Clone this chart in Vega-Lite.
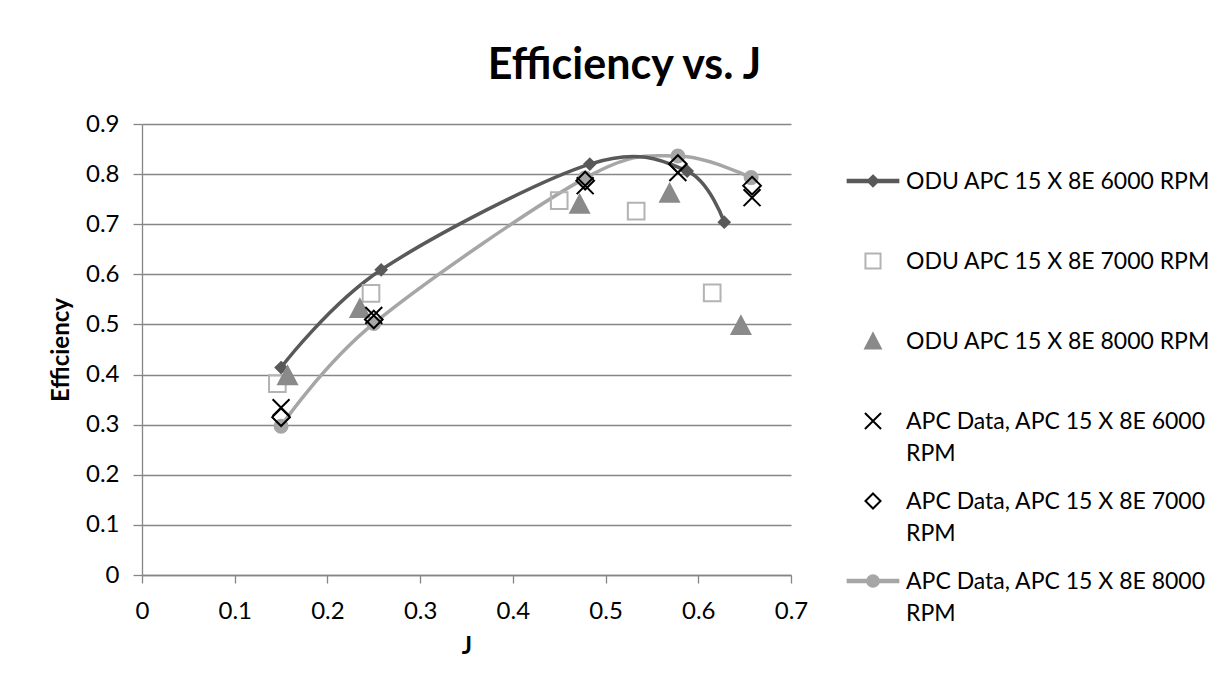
{
  "$schema": "https://vega.github.io/schema/vega-lite/v6.json",
  "width": 649,
  "height": 451,
  "autosize": "none",
  "padding": {"left": 142, "top": 124, "right": 435, "bottom": 115},
  "background": "white",
  "config": {"view": {"stroke": null}, "font": "Lato"},
  "title": {"text": "Efficiency vs. J", "fontSize": 43, "fontWeight": "bold", "font": "Lato", "color": "black", "anchor": "middle", "frame": "group", "dx": 158, "offset": -10, "baseline": "alphabetic"},
  "data": {"values": [
    {"series": "APC Data, APC 15 X 8E 8000 RPM", "J": 0.150, "eff": 0.297},
    {"series": "APC Data, APC 15 X 8E 8000 RPM", "J": 0.250, "eff": 0.502},
    {"series": "APC Data, APC 15 X 8E 8000 RPM", "J": 0.478, "eff": 0.792},
    {"series": "APC Data, APC 15 X 8E 8000 RPM", "J": 0.578, "eff": 0.836},
    {"series": "APC Data, APC 15 X 8E 8000 RPM", "J": 0.657, "eff": 0.793},
    {"series": "ODU APC 15 X 8E 6000 RPM", "J": 0.150, "eff": 0.414},
    {"series": "ODU APC 15 X 8E 6000 RPM", "J": 0.258, "eff": 0.609},
    {"series": "ODU APC 15 X 8E 6000 RPM", "J": 0.483, "eff": 0.820},
    {"series": "ODU APC 15 X 8E 6000 RPM", "J": 0.588, "eff": 0.806},
    {"series": "ODU APC 15 X 8E 6000 RPM", "J": 0.628, "eff": 0.704},
    {"series": "ODU APC 15 X 8E 7000 RPM", "J": 0.146, "eff": 0.382},
    {"series": "ODU APC 15 X 8E 7000 RPM", "J": 0.247, "eff": 0.562},
    {"series": "ODU APC 15 X 8E 7000 RPM", "J": 0.450, "eff": 0.747},
    {"series": "ODU APC 15 X 8E 7000 RPM", "J": 0.533, "eff": 0.726},
    {"series": "ODU APC 15 X 8E 7000 RPM", "J": 0.615, "eff": 0.563},
    {"series": "ODU APC 15 X 8E 8000 RPM", "J": 0.157, "eff": 0.398},
    {"series": "ODU APC 15 X 8E 8000 RPM", "J": 0.235, "eff": 0.532},
    {"series": "ODU APC 15 X 8E 8000 RPM", "J": 0.472, "eff": 0.740},
    {"series": "ODU APC 15 X 8E 8000 RPM", "J": 0.569, "eff": 0.762},
    {"series": "ODU APC 15 X 8E 8000 RPM", "J": 0.646, "eff": 0.498},
    {"series": "APC Data, APC 15 X 8E 6000 RPM", "J": 0.150, "eff": 0.334},
    {"series": "APC Data, APC 15 X 8E 6000 RPM", "J": 0.250, "eff": 0.518},
    {"series": "APC Data, APC 15 X 8E 6000 RPM", "J": 0.478, "eff": 0.777},
    {"series": "APC Data, APC 15 X 8E 6000 RPM", "J": 0.578, "eff": 0.803},
    {"series": "APC Data, APC 15 X 8E 6000 RPM", "J": 0.658, "eff": 0.753},
    {"series": "APC Data, APC 15 X 8E 7000 RPM", "J": 0.150, "eff": 0.315},
    {"series": "APC Data, APC 15 X 8E 7000 RPM", "J": 0.250, "eff": 0.510},
    {"series": "APC Data, APC 15 X 8E 7000 RPM", "J": 0.478, "eff": 0.787},
    {"series": "APC Data, APC 15 X 8E 7000 RPM", "J": 0.578, "eff": 0.820},
    {"series": "APC Data, APC 15 X 8E 7000 RPM", "J": 0.658, "eff": 0.777}
  ]},
  "encoding": {
    "x": {"field": "J", "type": "quantitative", "scale": {"domain": [0, 0.7], "nice": false, "zero": false},
      "axis": {"title": "J", "values": [0, 0.1, 0.2, 0.3, 0.4, 0.5, 0.6, 0.7], "format": "~g", "grid": false, "labelFlush": false, "labelOverlap": false,
        "domainColor": "#868686", "domainWidth": 1.3, "tickColor": "#868686", "tickWidth": 1.3, "tickSize": 8,
        "labelFont": "Lato", "labelFontSize": 24, "labelColor": "black", "labelPadding": 16,
        "titleFont": "Lato", "titleFontSize": 24, "titleFontWeight": "bold", "titleColor": "black", "titlePadding": 11}},
    "y": {"field": "eff", "type": "quantitative", "scale": {"domain": [0, 0.9], "nice": false, "zero": false},
      "axis": {"title": "Efficiency", "values": [0, 0.1, 0.2, 0.3, 0.4, 0.5, 0.6, 0.7, 0.8, 0.9], "format": "~g", "grid": true, "gridColor": "#868686", "gridWidth": 1.3, "labelOverlap": false, "labelFlush": false,
        "domainColor": "#868686", "domainWidth": 1.3, "tickColor": "#868686", "tickWidth": 1.3, "tickSize": 9,
        "labelFont": "Lato", "labelFontSize": 24, "labelColor": "black", "labelPadding": 14,
        "titleFont": "Lato", "titleFontSize": 24, "titleFontWeight": "bold", "titleColor": "black", "titlePadding": 12}}
  },
  "layer": [
    {
      "transform": [{"filter": "datum.series == 'ODU APC 15 X 8E 6000 RPM' || datum.series == 'APC Data, APC 15 X 8E 8000 RPM'"}],
      "mark": {"type": "line", "interpolate": "cardinal", "strokeWidth": 3.5},
      "encoding": {
        "stroke": {"field": "series", "type": "nominal", "scale": {"domain": ["ODU APC 15 X 8E 6000 RPM", "APC Data, APC 15 X 8E 8000 RPM"], "range": ["#595959", "#a6a6a6"]}, "legend": null}
      }
    },
    {
      "mark": {"type": "point", "size": 676, "strokeWidth": 2, "opacity": 1},
      "encoding": {
        "shape": {"field": "series", "type": "nominal", "legend": null, "scale": {
          "domain": ["ODU APC 15 X 8E 6000 RPM", "ODU APC 15 X 8E 7000 RPM", "ODU APC 15 X 8E 8000 RPM", "APC Data, APC 15 X 8E 6000 RPM", "APC Data, APC 15 X 8E 7000 RPM", "APC Data, APC 15 X 8E 8000 RPM"],
          "range": ["M0,-0.42L0.42,0L0,0.42L-0.42,0Z", "M-0.64,-0.64H0.64V0.64H-0.64Z", "M0,-0.7L0.72,0.66H-0.72Z", "M-0.65,-0.65L0.65,0.65M-0.65,0.65L0.65,-0.65", "M0,-0.68L0.68,0L0,0.68L-0.68,0Z", "M0.5,0A0.5,0.5,0,1,1,-0.5,0A0.5,0.5,0,1,1,0.5,0Z"]}},
        "fill": {"field": "series", "type": "nominal", "legend": null, "scale": {
          "domain": ["ODU APC 15 X 8E 6000 RPM", "ODU APC 15 X 8E 7000 RPM", "ODU APC 15 X 8E 8000 RPM", "APC Data, APC 15 X 8E 6000 RPM", "APC Data, APC 15 X 8E 7000 RPM", "APC Data, APC 15 X 8E 8000 RPM"],
          "range": ["#595959", "transparent", "#8a8a8a", "transparent", "transparent", "#a6a6a6"]}},
        "stroke": {"field": "series", "type": "nominal", "legend": null, "scale": {
          "domain": ["ODU APC 15 X 8E 6000 RPM", "ODU APC 15 X 8E 7000 RPM", "ODU APC 15 X 8E 8000 RPM", "APC Data, APC 15 X 8E 6000 RPM", "APC Data, APC 15 X 8E 7000 RPM", "APC Data, APC 15 X 8E 8000 RPM"],
          "range": ["#595959", "#b3b3b3", "#8a8a8a", "#000000", "#000000", "#a6a6a6"]}}
      }
    },
    {
      "transform": [{"filter": "false"}],
      "mark": {"type": "point", "size": 676, "strokeWidth": 2, "opacity": 1},
      "encoding": {
        "shape": {"field": "series", "type": "nominal",
          "legend": {"title": null, "orient": "none", "legendX": 717, "legendY": 43, "padding": 0, "symbolSize": 676, "symbolStrokeWidth": 2, "symbolOpacity": 1,
            "labelFont": "Lato", "labelFontSize": 23, "labelColor": "black", "labelLimit": 600, "labelOffset": 19, "rowPadding": 21,
            "labelExpr": "indexof(datum.label,'APC Data')==0 ? [slice(datum.label,0,26),'RPM'] : [datum.label,'']",
            "encode": {"labels": {"update": {"lineHeight": {"value": 32}, "dy": {"value": 1}}}}},
          "scale": {
          "domain": ["ODU APC 15 X 8E 6000 RPM", "ODU APC 15 X 8E 7000 RPM", "ODU APC 15 X 8E 8000 RPM", "APC Data, APC 15 X 8E 6000 RPM", "APC Data, APC 15 X 8E 7000 RPM", "APC Data, APC 15 X 8E 8000 RPM"],
          "range": ["M-1.95,-0.1H1.95V0.1H-1.95ZM0,-0.42L0.42,0L0,0.42L-0.42,0Z", "M-0.58,-0.58H0.58V0.58H-0.58Z", "M0,-0.58L0.6,0.58H-0.6Z", "M-0.62,-0.62L0.62,0.62M-0.62,0.62L0.62,-0.62", "M0,-0.58L0.58,0L0,0.58L-0.58,0Z", "M-1.95,-0.1H1.95V0.1H-1.95ZM0.45,0A0.45,0.45,0,1,1,-0.45,0A0.45,0.45,0,1,1,0.45,0Z"]}},
        "fill": {"field": "series", "type": "nominal",
          "legend": {"title": null, "orient": "none", "legendX": 717, "legendY": 43, "padding": 0, "symbolSize": 676, "symbolStrokeWidth": 2, "symbolOpacity": 1,
            "labelFont": "Lato", "labelFontSize": 23, "labelColor": "black", "labelLimit": 600, "labelOffset": 19, "rowPadding": 21,
            "labelExpr": "indexof(datum.label,'APC Data')==0 ? [slice(datum.label,0,26),'RPM'] : [datum.label,'']",
            "encode": {"labels": {"update": {"lineHeight": {"value": 32}, "dy": {"value": 1}}}}},
          "scale": {
          "domain": ["ODU APC 15 X 8E 6000 RPM", "ODU APC 15 X 8E 7000 RPM", "ODU APC 15 X 8E 8000 RPM", "APC Data, APC 15 X 8E 6000 RPM", "APC Data, APC 15 X 8E 7000 RPM", "APC Data, APC 15 X 8E 8000 RPM"],
          "range": ["#595959", "transparent", "#8a8a8a", "transparent", "transparent", "#a6a6a6"]}},
        "stroke": {"field": "series", "type": "nominal",
          "legend": {"title": null, "orient": "none", "legendX": 717, "legendY": 43, "padding": 0, "symbolSize": 676, "symbolStrokeWidth": 2, "symbolOpacity": 1,
            "labelFont": "Lato", "labelFontSize": 23, "labelColor": "black", "labelLimit": 600, "labelOffset": 19, "rowPadding": 21,
            "labelExpr": "indexof(datum.label,'APC Data')==0 ? [slice(datum.label,0,26),'RPM'] : [datum.label,'']",
            "encode": {"labels": {"update": {"lineHeight": {"value": 32}, "dy": {"value": 1}}}}},
          "scale": {
          "domain": ["ODU APC 15 X 8E 6000 RPM", "ODU APC 15 X 8E 7000 RPM", "ODU APC 15 X 8E 8000 RPM", "APC Data, APC 15 X 8E 6000 RPM", "APC Data, APC 15 X 8E 7000 RPM", "APC Data, APC 15 X 8E 8000 RPM"],
          "range": ["#595959", "#b3b3b3", "#8a8a8a", "#000000", "#000000", "#a6a6a6"]}}
      }
    }
  ],
  "resolve": {"scale": {"shape": "independent", "fill": "independent", "stroke": "independent"}}
}
